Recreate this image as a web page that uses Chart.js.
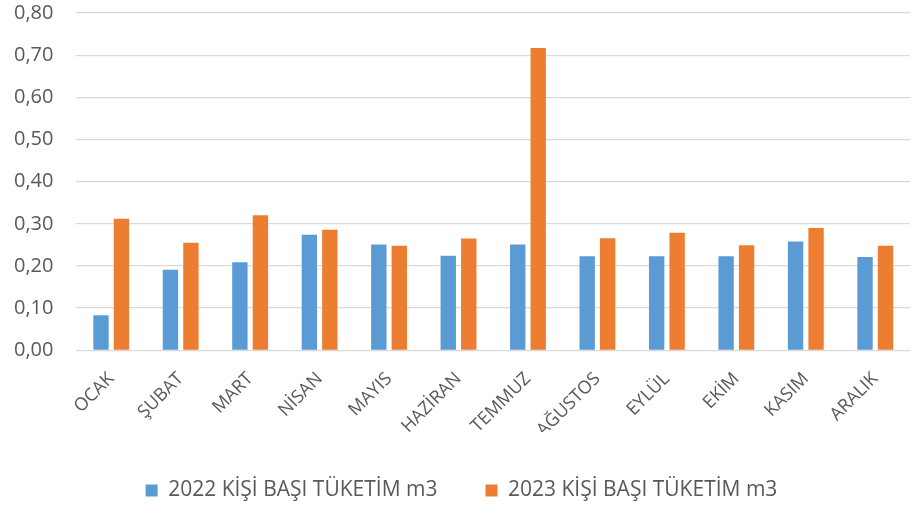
<!DOCTYPE html>
<html lang="tr">
<head>
<meta charset="UTF-8">
<title>Kişi Başı Tüketim</title>
<script src="https://cdn.jsdelivr.net/npm/chart.js"></script>
<style>
  html, body {
    margin: 0;
    padding: 0;
    background: #fff;
  }
  #wrap {
    width: 917px;
    height: 506px;
  }
</style>
</head>
<body>
<div id="wrap"><canvas id="chart"></canvas></div>
<script>
  const months = ['OCAK', 'ŞUBAT', 'MART', 'NİSAN', 'MAYIS', 'HAZİRAN', 'TEMMUZ', 'AĞUSTOS', 'EYLÜL', 'EKİM', 'KASIM', 'ARALIK'];
  const values2022 = [0.083, 0.191, 0.209, 0.274, 0.251, 0.224, 0.251, 0.223, 0.223, 0.223, 0.258, 0.221];
  const values2023 = [0.312, 0.255, 0.320, 0.286, 0.248, 0.265, 0.717, 0.266, 0.279, 0.249, 0.290, 0.248];
  const seriesNames = ['2022 KİŞİ BAŞI TÜKETİM m3', '2023 KİŞİ BAŞI TÜKETİM m3'];

  const textColor = '#595959';
  const fontFamily = '"Open Sans", sans-serif';

  // legend padding sets both the gap between items and the space above/below,
  // so cut its box height after fit to keep it low in the canvas
  const legendHeight = {
    id: 'legendHeight',
    beforeLayout(chart) {
      const legend = chart.legend;
      if (!legend || legend._patched) return;
      const fit = legend.fit;
      legend.fit = function () {
        fit.call(this);
        this.height = 74;
      };
      legend._patched = true;
    }
  };

  new Chart(document.getElementById('chart'), {
    type: 'bar',
    data: {
      labels: months,
      datasets: [
        {
          label: seriesNames[0],
          data: values2022,
          backgroundColor: '#5B9BD5',
          categoryPercentage: 0.59,
          barPercentage: 0.75
        },
        {
          label: seriesNames[1],
          data: values2023,
          backgroundColor: '#ED7D31',
          categoryPercentage: 0.59,
          barPercentage: 0.75
        }
      ]
    },
    plugins: [legendHeight],
    options: {
      responsive: true,
      maintainAspectRatio: false,
      animation: false,
      layout: {
        padding: { top: 0, right: 7, left: 13, bottom: 0 }
      },
      plugins: {
        tooltip: { enabled: false },
        legend: {
          position: 'bottom',
          labels: {
            color: textColor,
            font: { family: fontFamily, size: 21 },
            boxWidth: 12,
            boxHeight: 12,
            padding: 48
          }
        }
      },
      scales: {
        x: {
          grid: { display: false },
          border: { display: false },
          ticks: {
            color: textColor,
            font: { family: fontFamily, size: 18 },
            minRotation: 45,
            maxRotation: 45,
            padding: 10
          },
          afterFit: scale => { scale.height -= 19; }
        },
        y: {
          min: 0,
          max: 0.8,
          border: { display: false },
          grid: {
            color: '#d9d9d9',
            lineWidth: 1.3,
            drawTicks: true,
            tickLength: 22,
            tickColor: 'rgba(0,0,0,0)'
          },
          ticks: {
            stepSize: 0.1,
            color: textColor,
            font: { family: fontFamily, size: 20 },
            padding: 1,
            callback: v => v.toFixed(2).replace('.', ',')
          }
        }
      }
    }
  });
</script>
</body>
</html>
